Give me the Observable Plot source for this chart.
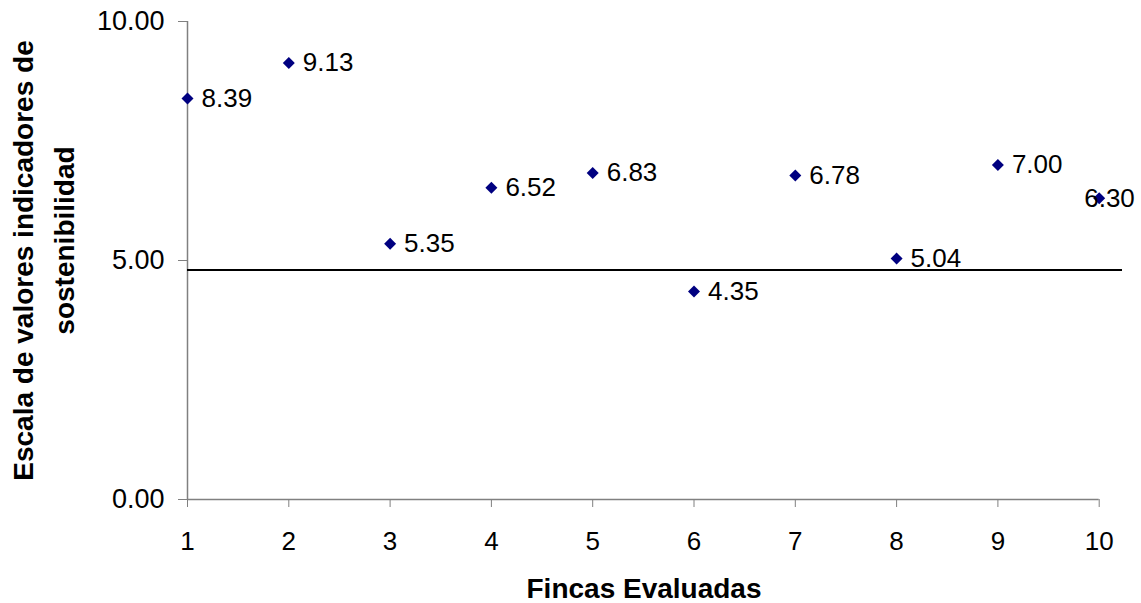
<!DOCTYPE html>
<html>
<head>
<meta charset="utf-8">
<script src="https://cdn.jsdelivr.net/npm/d3@7"></script>
<script src="https://cdn.jsdelivr.net/npm/@observablehq/plot@0.6"></script>
<style>
  html, body { margin: 0; padding: 0; background: #fff; }
  #chart svg { display: block; }
</style>
</head>
<body>
<div id="chart"></div>
<script>
const fincas = [1, 2, 3, 4, 5, 6, 7, 8, 9, 10];
const valores = [8.39, 9.13, 5.35, 6.52, 6.83, 4.35, 6.78, 5.04, 7.00, 6.30];
const umbral = 4.8;
const yTicks = [0, 5, 10];
const xTitle = "Fincas Evaluadas";
const yTitle1 = "Escala de valores indicadores de";
const yTitle2 = "sostenibilidad";

const data = fincas.map((f, i) => ({finca: f, valor: valores[i]}));
const fmt = d3.format(".2f");
const font = "'Liberation Sans', Arial, Helvetica, sans-serif";
const lastFinca = fincas[fincas.length - 1];

const plot = Plot.plot({
  width: 1141,
  height: 603,
  marginLeft: 187,
  marginRight: 19,
  marginTop: 21,
  marginBottom: 104,
  style: {fontFamily: font, background: "white", color: "black"},
  x: {domain: [1, 10.23]},
  y: {domain: [0, 10]},
  marks: [
    Plot.axisY({ticks: yTicks, tickFormat: fmt, tickSize: 9, tickPadding: 14, fontSize: 27, stroke: "#808080", fill: "black", label: null}),
    Plot.axisX({ticks: fincas, tickFormat: d => String(d), tickSize: 8, tickPadding: 24, fontSize: 26, stroke: "#808080", fill: "black", label: null}),
    Plot.ruleX([1], {y1: 0, y2: 10, stroke: "#808080", strokeWidth: 1.5}),
    Plot.ruleY([0], {x1: 1, x2: lastFinca, stroke: "#808080", strokeWidth: 1.5}),
    Plot.ruleY([umbral], {stroke: "black", strokeWidth: 2}),
    Plot.dot(data, {x: "finca", y: "valor", symbol: "diamond2", r: 5.4, fill: "#000080", stroke: "none"}),
    Plot.text(data.filter(d => d.finca !== lastFinca), {x: "finca", y: "valor", text: d => fmt(d.valor), textAnchor: "start", dx: 14, dy: 0, fontSize: 26, fill: "black"}),
    Plot.text(data.filter(d => d.finca === lastFinca), {x: "finca", y: "valor", text: d => fmt(d.valor), textAnchor: "start", dx: -15, dy: 0, fontSize: 26, fill: "black"}),
    Plot.text([xTitle], {frameAnchor: "bottom", text: d => d, textAnchor: "middle", dx: -11, dy: 90, lineAnchor: "middle", fontSize: 28, fontWeight: "bold", fill: "black"}),
    Plot.text([yTitle1], {frameAnchor: "left", text: d => d, textAnchor: "middle", rotate: -90, dx: -163.5, dy: 0, lineAnchor: "middle", fontSize: 28, fontWeight: "bold", fill: "black"}),
    Plot.text([yTitle2], {frameAnchor: "left", text: d => d, textAnchor: "middle", rotate: -90, dx: -122, dy: -20, lineAnchor: "middle", fontSize: 28, fontWeight: "bold", fill: "black"})
  ]
});
document.getElementById("chart").appendChild(plot);
</script>
</body>
</html>
